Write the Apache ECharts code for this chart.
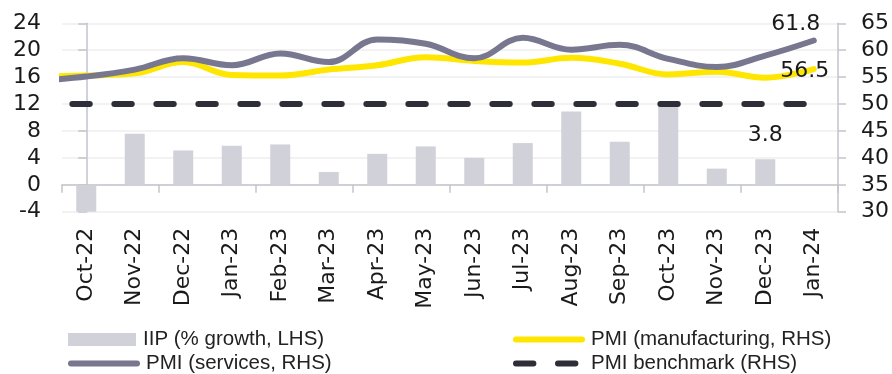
<!DOCTYPE html>
<html>
<head>
<meta charset="utf-8">
<script src="https://cdn.jsdelivr.net/npm/echarts@6/dist/echarts.min.js"></script>
<style>
  html, body { margin: 0; padding: 0; background: #ffffff; }
  #chart { width: 892px; height: 374px; }
</style>
</head>
<body>
<div id="chart"></div>
<script>
// Monthly categories on the bar axis
const months = ['Oct-22', 'Nov-22', 'Dec-22', 'Jan-23', 'Feb-23', 'Mar-23', 'Apr-23', 'May-23',
  'Jun-23', 'Jul-23', 'Aug-23', 'Sep-23', 'Oct-23', 'Nov-23', 'Dec-23', 'Jan-24'];

// IIP growth, % (left axis); no reading yet for Jan-24
const iipGrowth = [-4.1, 7.6, 5.1, 5.8, 6.0, 1.9, 4.6, 5.7, 4.0, 6.2, 10.9, 6.4, 11.7, 2.4, 3.8, null];

// PMI series (right axis) start one month earlier (Sep-22), which sits just left of the plot and is clipped
const pmiManufacturing = [55.1, 55.3, 55.7, 57.8, 55.4, 55.3, 56.4, 57.2, 58.7, 58.0, 57.7, 58.6, 57.5, 55.5, 56.0, 54.9, 56.5];
const pmiServices = [54.3, 55.1, 56.4, 58.5, 57.2, 59.4, 57.8, 62.0, 61.2, 58.5, 62.3, 60.1, 61.0, 58.4, 56.9, 59.0, 61.8];
const pmiBenchmark = [50, 50, 50, 50, 50, 50, 50, 50, 50, 50, 50, 50, 50, 50, 50, 50, 50];

// Axis ticks
const leftTicks = { min: -4, max: 24, interval: 4 };
const rightTicks = { min: 30, max: 65, interval: 5 };

const AXIS_COLOR = '#c3c3cd';
const TEXT_COLOR = '#1a1a1a';
const NUM_FONT = '"DejaVu Sans", Verdana, sans-serif';
const LEGEND_FONT = '"Liberation Sans", Arial, sans-serif';

// Line points are placed on a hidden value axis: index -1 is the earlier month
const toPoints = (arr, labelIndex, labelOpt) => arr.map((v, i) => {
  const item = { value: [i - 1, v] };
  if (i === labelIndex) item.label = labelOpt;
  return item;
});

const lastIdx = pmiServices.length - 1;

const barData = iipGrowth.map((v, i) => {
  const item = { value: v };
  if (i === 14) {
    item.label = {
      show: true, position: 'top', distance: 13,
      fontFamily: NUM_FONT, fontSize: 22, color: TEXT_COLOR
    };
  }
  return item;
});

const chart = echarts.init(document.getElementById('chart'), null, { renderer: 'canvas' });

const legendBase = {
  orient: 'horizontal',
  padding: 0,
  itemGap: 0,
  selectedMode: false,
  itemStyle: { opacity: 0 },
  textStyle: { fontFamily: LEGEND_FONT, fontSize: 20.5, color: '#222222', padding: [0, 0, 0, 4] }
};

chart.setOption({
  animation: false,
  backgroundColor: '#ffffff',
  grid: { left: 62, right: 52, top: 23.3, bottom: 162.3, containLabel: false },
  legend: [
    Object.assign({}, legendBase, {
      data: [{ name: 'IIP (% growth, LHS)', icon: 'rect' }],
      left: 68, top: 329, itemWidth: 68, itemHeight: 13,
      itemStyle: {},
      textStyle: Object.assign({}, legendBase.textStyle, { padding: [0, 0, 0, 2] })
    }),
    Object.assign({}, legendBase, {
      data: ['PMI (manufacturing, RHS)'],
      left: 513, top: 329, itemWidth: 66, itemHeight: 13,
      lineStyle: { width: 6 }
    }),
    Object.assign({}, legendBase, {
      data: ['PMI (services, RHS)'],
      left: 68, top: 353, itemWidth: 66, itemHeight: 13,
      lineStyle: { width: 6 }
    }),
    Object.assign({}, legendBase, {
      data: ['PMI benchmark (RHS)'],
      left: 513, top: 353, itemWidth: 66, itemHeight: 13,
      lineStyle: { width: 6, dashOffset: 0 }
    })
  ],
  xAxis: [
    {
      // labels along the bottom of the plot
      type: 'category', data: months, position: 'bottom', gridIndex: 0,
      axisLine: { show: false }, axisTick: { show: false }, splitLine: { show: false },
      axisLabel: {
        rotate: 90, margin: 16, interval: 0,
        fontFamily: NUM_FONT, fontSize: 22, color: TEXT_COLOR
      }
    },
    {
      // baseline with ticks sitting on zero of the left axis
      type: 'category', data: months, position: 'bottom', gridIndex: 0,
      axisLine: { show: true, onZero: true, onZeroAxisIndex: 0, lineStyle: { color: AXIS_COLOR, width: 1.5 } },
      axisTick: { show: true, length: 8, lineStyle: { color: AXIS_COLOR, width: 1.5 } },
      axisLabel: { show: false }, splitLine: { show: false }
    },
    {
      type: 'value', min: -0.5, max: 15.5, show: false, gridIndex: 0
    }
  ],
  yAxis: [
    {
      type: 'value', position: 'left',
      min: leftTicks.min, max: leftTicks.max, interval: leftTicks.interval,
      axisLine: { show: true, lineStyle: { color: AXIS_COLOR, width: 1.5 } },
      axisTick: { show: true, length: 8, lineStyle: { color: AXIS_COLOR, width: 1.5 } },
      axisLabel: { margin: 21, fontFamily: NUM_FONT, fontSize: 22, color: TEXT_COLOR },
      splitLine: { show: true, lineStyle: { color: '#eeeeee', width: 1.5 } }
    },
    {
      type: 'value', position: 'right',
      min: rightTicks.min, max: rightTicks.max, interval: rightTicks.interval,
      axisLine: { show: true, lineStyle: { color: AXIS_COLOR, width: 1.5 } },
      axisTick: { show: true, length: 8, lineStyle: { color: AXIS_COLOR, width: 1.5 } },
      axisLabel: { margin: 23, fontFamily: NUM_FONT, fontSize: 22, color: TEXT_COLOR },
      splitLine: { show: false }
    }
  ],
  series: [
    {
      name: 'IIP (% growth, LHS)', type: 'bar',
      xAxisIndex: 0, yAxisIndex: 0,
      barWidth: 20,
      itemStyle: { color: '#d1d1d9' },
      data: barData,
      z: 1
    },
    {
      name: 'PMI (manufacturing, RHS)', type: 'line',
      xAxisIndex: 2, yAxisIndex: 1,
      smooth: 0.4, symbol: 'circle', symbolSize: 0, showSymbol: true, clip: true,
      lineStyle: { color: '#ffe600', width: 6, cap: 'round', join: 'round' },
      itemStyle: { color: '#ffe600' },
      data: toPoints(pmiManufacturing, lastIdx, {
        show: true, position: 'top', distance: 5, offset: [-9, 18],
        fontFamily: NUM_FONT, fontSize: 22, color: TEXT_COLOR
      }),
      z: 3
    },
    {
      name: 'PMI (services, RHS)', type: 'line',
      xAxisIndex: 2, yAxisIndex: 1,
      smooth: 0.4, symbol: 'circle', symbolSize: 0, showSymbol: true, clip: true,
      lineStyle: { color: '#777790', width: 6, cap: 'round', join: 'round' },
      itemStyle: { color: '#777790' },
      data: toPoints(pmiServices, lastIdx, {
        show: true, position: 'top', distance: 5, offset: [-18, 0],
        fontFamily: NUM_FONT, fontSize: 22, color: TEXT_COLOR
      }),
      z: 4
    },
    {
      name: 'PMI benchmark (RHS)', type: 'line',
      xAxisIndex: 2, yAxisIndex: 1,
      symbol: 'none', clip: true,
      lineStyle: { color: '#2e2e38', width: 6, cap: 'round', type: [17.4, 24.6], dashOffset: 7.4 },
      itemStyle: { color: '#2e2e38' },
      data: toPoints(pmiBenchmark, -99, null),
      z: 5
    }
  ]
});
</script>
</body>
</html>
